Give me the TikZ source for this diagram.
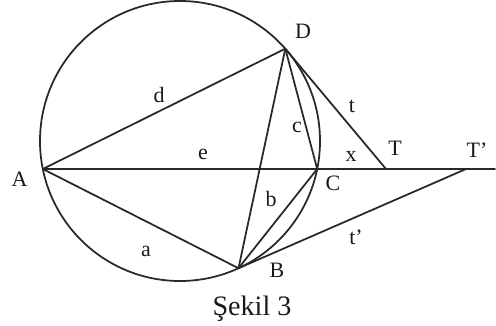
\documentclass[tikz,border=0pt]{standalone}
\usepackage{fontspec}
\setmainfont{Liberation Serif}
\usepackage{tikz}
\usetikzlibrary{calc}
\definecolor{sekilLine}{RGB}{40,40,40}
\definecolor{sekilText}{RGB}{25,25,25}
\tikzset{
  figline/.style={draw=sekilLine, line width=1pt, line cap=round, line join=round},
  ptlabel/.style={font=\fontsize{12.5}{14}\selectfont, text=sekilText, inner sep=0pt},
  sidelabel/.style={font=\fontsize{12.5}{14}\selectfont, text=sekilText, inner sep=0pt},
  captionlabel/.style={font=\fontsize{16}{18}\selectfont, text=sekilText, inner sep=0pt},
}

\begin{document}
\begin{tikzpicture}[x=0.02cm, y=-0.02cm]
  \useasboundingbox (0,0) rectangle (496,325);

  \coordinate (O) at (180,141);
  \coordinate (A) at (42.8,169);
  \coordinate (C) at (317.2,169);
  \coordinate (D) at (285.3,48.7);
  \coordinate (B) at (238.5,268.2);
  \coordinate (T) at (386,169);
  \coordinate (Tp) at (466,169);
  \coordinate (lineend) at (495,169);

  \draw[figline] (O) circle[radius=140];
  \draw[figline] (A) -- (lineend);
  \draw[figline] (A) -- (D);
  \draw[figline] (A) -- (B);
  \draw[figline] (D) -- (B);
  \draw[figline] (D) -- (C);
  \draw[figline] (C) -- (B);
  \draw[figline] (D) -- (T);
  \draw[figline] (B) -- (Tp);

  \node[ptlabel] (labA) at (19.5,179) {A};
  \node[ptlabel] (labB) at (277,270) {B};
  \node[ptlabel] (labC) at (333,183) {C};
  \node[ptlabel] (labD) at (303,31) {D};
  \node[ptlabel] (labT) at (395,148) {T};
  \node[ptlabel] (labTp) at (477,150) {T'};

  \node[sidelabel] (lbla) at (146,251) {a};
  \node[sidelabel] (lblb) at (271,199) {b};
  \node[sidelabel] (lblc) at (297,127) {c};
  \node[sidelabel] (lbld) at (159,95) {d};
  \node[sidelabel] (lble) at (203,154) {e};
  \node[sidelabel] (lblx) at (351,156) {x};
  \node[sidelabel] (lblt) at (352,106) {t};
  \node[sidelabel] (lbltp) at (356,237) {t'};

  \node[captionlabel, anchor=base] (caption) at (252,315) {Şekil 3};
\end{tikzpicture}
\end{document}
